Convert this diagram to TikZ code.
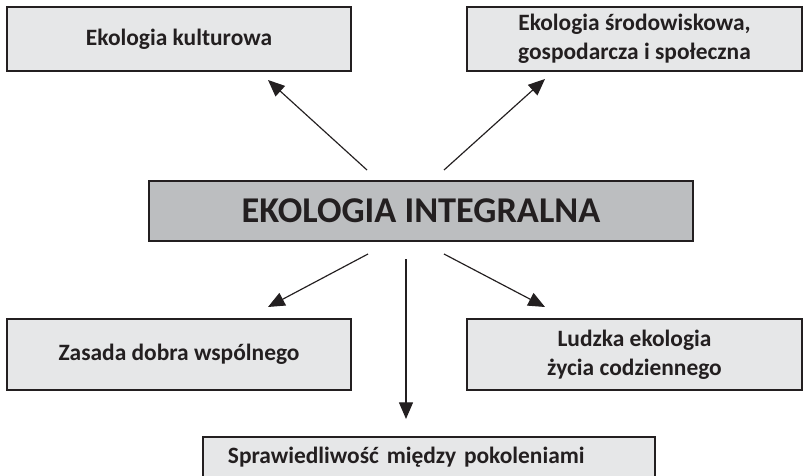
\documentclass[tikz,border=0pt]{standalone}
\usepackage{fontspec}
\setmainfont{Carlito}
\usetikzlibrary{arrows.meta}

\definecolor{boxline}{HTML}{231F20}
\definecolor{boxfill}{HTML}{E6E7E8}
\definecolor{corefill}{HTML}{BCBEC0}

\tikzset{
    areabox/.style={draw=boxline, line width=1.4pt, fill=boxfill, text=boxline,
        font=\fontsize{20}{25}\selectfont\bfseries, align=center, inner sep=0pt},
    corebox/.style={areabox, fill=corefill, font=\fontsize{31}{36}\selectfont\bfseries},
    link/.style={draw=boxline, line width=1pt, -{Triangle[length=0.5cm, width=0.42cm]}}
}

\begin{document}
\begin{tikzpicture}[x=0.03cm, y=-0.03cm]
            \clip (0,0) rectangle (803,476);

            % Central node
            \node[corebox, minimum width=16.32cm, minimum height=1.8cm] (core) at (421,211) {EKOLOGIA INTEGRALNA};

            % Upper nodes
            \node[areabox, minimum width=10.32cm, minimum height=1.92cm] (kult) at (179,39) {Ekologia kulturowa};
            \node[areabox, minimum width=10.05cm, minimum height=1.92cm] (srod) at (634.5,39) {Ekologia środowiskowa,\\gospodarcza i społeczna};

            % Lower nodes
            \node[areabox, minimum width=10.32cm, minimum height=2.13cm] (dobro) at (179,354.5) {Zasada dobra wspólnego};
            \node[areabox, minimum width=10.05cm, minimum height=2.13cm] (ludz) at (634.5,354.5) {Ludzka ekologia\\życia codziennego};
            \node[areabox, text width=12.06cm, inner xsep=0.75cm, align=left, minimum height=1.23cm] (pokol) at (429,457.5) {Sprawiedliwość między pokoleniami};

            % Arrow ends
            \coordinate (a1) at (367,170);  \coordinate (b1) at (268,80);
            \coordinate (a2) at (444,170);  \coordinate (b2) at (545,79);
            \coordinate (a3) at (368,254);  \coordinate (b3) at (268,307);
            \coordinate (a4) at (406,259);  \coordinate (b4) at (406,419);
            \coordinate (a5) at (444,254);  \coordinate (b5) at (545,307);

            \draw[link] (a1) -- (b1);
            \draw[link] (a2) -- (b2);
            \draw[link] (a3) -- (b3);
            \draw[link] (a4) -- (b4);
            \draw[link] (a5) -- (b5);
        \end{tikzpicture}
\end{document}
